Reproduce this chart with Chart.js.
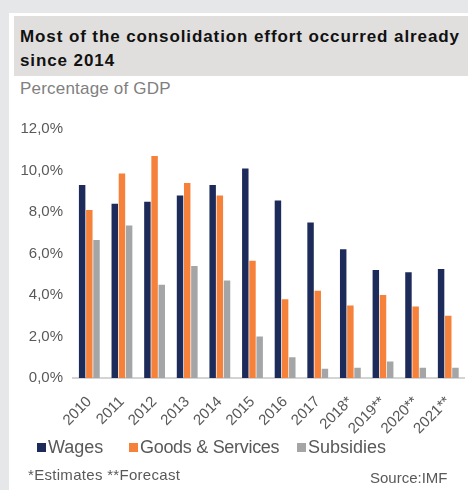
<!DOCTYPE html>
<html>
<head>
<meta charset="utf-8">
<script src="https://cdn.jsdelivr.net/npm/chart.js@4/dist/chart.umd.min.js"></script>
<style>
  body { margin: 0; width: 468px; height: 490px; background: #e6e7e8; overflow: hidden; font-family: "Liberation Sans", Arial, sans-serif; }
  #panel { position: absolute; left: 9px; top: 13px; width: 459px; height: 477px; background: #fff; }
  #title { position: absolute; left: 14px; top: 16px; width: 454px; height: 60px; background: #e0dfde; }
  #title div { position: absolute; left: 6px; top: 9px; font-weight: bold; font-size: 17px; letter-spacing: 0.9px; line-height: 24px; color: #111; }
  #sub { position: absolute; left: 20px; top: 79px; font-size: 17px; letter-spacing: 0.2px; color: #808080; }
  #wrap { position: absolute; left: 9px; top: 100px; width: 459px; height: 340px; }
  #legend { position: absolute; left: 37px; top: 437px; font-size: 18px; color: #595959; white-space: nowrap; }
  #legend span { display: inline-block; }
  #legend span:nth-child(1) { width: 92px; }
  #legend span:nth-child(2) { width: 168px; letter-spacing: -0.3px; }
  #legend i { display: inline-block; width: 9px; height: 9px; margin-right: 2px; vertical-align: 1px; }
  #note { position: absolute; left: 28px; top: 466px; font-size: 15px; letter-spacing: 0.3px; color: #595959; }
  #src { position: absolute; left: 370px; top: 469px; font-size: 15px; color: #595959; }
</style>
</head>
<body>
<div id="panel"></div>
<div id="title"><div>Most of the consolidation effort occurred already<br>since 2014</div></div>
<div id="sub">Percentage of GDP</div>
<div id="wrap"><canvas id="myChart"></canvas></div>
<div id="legend"></div>
<div id="note">*Estimates **Forecast</div>
<div id="src">Source:IMF</div>
<script>
const years = ["2010", "2011", "2012", "2013", "2014", "2015", "2016", "2017", "2018*", "2019**", "2020**", "2021**"];
const wages = [9.3, 8.4, 8.5, 8.8, 9.3, 10.1, 8.55, 7.5, 6.2, 5.2, 5.1, 5.25];
const goodsServices = [8.1, 9.85, 10.7, 9.4, 8.8, 5.65, 3.8, 4.2, 3.5, 4.0, 3.45, 3.0];
const subsidies = [6.65, 7.35, 4.5, 5.4, 4.7, 2.0, 1.0, 0.45, 0.5, 0.8, 0.5, 0.5];

const data = {
  labels: years,
  datasets: [
    { label: "Wages", data: wages, backgroundColor: "#1c2b5a" },
    { label: "Goods & Services", data: goodsServices, backgroundColor: "#f5813a" },
    { label: "Subsidies", data: subsidies, backgroundColor: "#a3a5a6" },
  ],
};

const config = {
  type: "bar",
  data: data,
  options: {
    responsive: true,
    maintainAspectRatio: false,
    animation: false,
    layout: { padding: { top: 29, right: 0, left: 0, bottom: 0 } },
    datasets: { bar: { categoryPercentage: 0.66, barPercentage: 0.9 } },
    plugins: {
      tooltip: { enabled: false },
      legend: { display: false },
    },
    scales: {
      x: {
        grid: { display: false },
        border: { color: "#d4d4d4", width: 2 },
        afterFit: (scale) => { scale.height = 62; },
        ticks: {
          autoSkip: false,
          minRotation: 45,
          maxRotation: 45,
          padding: 7,
          color: "#595959",
          font: { family: "Liberation Sans", size: 15 },
        },
      },
      y: {
        min: 0,
        max: 12,
        grid: { display: false, drawTicks: false },
        border: { display: false },
        afterFit: (scale) => { scale.width = 64; },
        ticks: {
          stepSize: 2,
          padding: 10,
          color: "#595959",
          font: { family: "Liberation Sans", size: 15 },
          callback: (v) => v.toFixed(1).replace(".", ",") + "%",
        },
      },
    },
  },
};

const myChart = new Chart(document.getElementById("myChart"), config);

// legend row built from the chart's own datasets
const legend = document.getElementById("legend");
myChart.data.datasets.forEach((ds) => {
  const item = document.createElement("span");
  const box = document.createElement("i");
  box.style.background = ds.backgroundColor;
  item.appendChild(box);
  item.appendChild(document.createTextNode(ds.label));
  legend.appendChild(item);
});
</script>
</body>
</html>
